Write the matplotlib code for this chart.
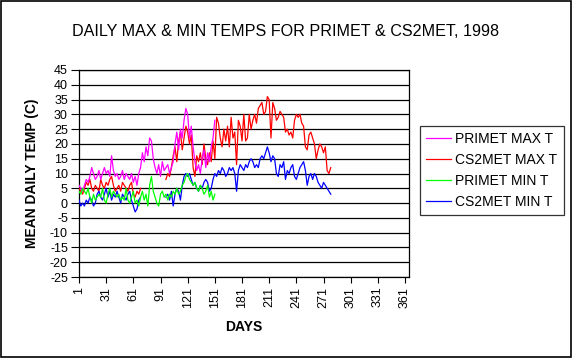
import numpy as np
import matplotlib.pyplot as plt

plt.rcParams['font.family'] = ['Liberation Sans', 'DejaVu Sans']

# daily readings, every second day
primet_days = np.arange(1, 152, 2)
primet_max = [6, 5, 4, 6, 8, 7, 9, 12, 10, 8, 9, 11, 8, 10, 12, 10, 11, 9, 16, 11,
              9, 10, 8, 9, 11, 8, 10, 9, 8, 10, 7, 9, 6, 10, 12, 17, 14, 19, 16, 22,
              21, 15, 12, 10, 13, 9, 14, 11, 12, 13, 10, 12, 14, 20, 24, 18, 25, 22, 28, 32,
              30, 22, 26, 19, 14, 11, 13, 10, 15, 18, 12, 17, 14, 19, 22, 28]
primet_min = [4, 3, 5, 4, 3, 5, 2, 0, 3, 1, 2, 3, 2, 5, 1, 0, 3, 5, 2, 4,
              3, 2, 3, 1, 2, 1, 5, 1, 0, 2, 4, 0, 1, -1, 2, 4, 1, 3, -1, 6,
              9, 4, 2, 0, -1, 3, 4, 2, 3, 1, 3, 2, 4, 3, 5, 3, 4, 6, 7, 9,
              10, 8, 7, 6, 7, 5, 4, 6, 5, 3, 4, 6, 2, 4, 1, 3]

cs2_days = np.arange(1, 280, 2)
nan = np.nan
cs2_max = [5, 4, 3, 5, 7, 6, 8, 5, 4, 6, 5, 4, 8, 6, 5, 7, 6, 8, 9, 6,
           4, 5, 6, 4, 7, 6, 5, 4, 6, 7, 3, 2, 4, 3, 5, nan, nan, nan, nan, nan,
           nan, nan, nan, nan, nan, nan, nan, nan, 8, 10, 9, 12, 16, 19, 14, 21, 24, 18, 22, 26,
           24, 20, 23, 12, 9, 16, 14, 17, 13, 20, 15, 13, 17, 14, 21, 15, 29, 27, 22, 19,
           25, 21, 26, 19, 29, 22, 24, 13, 28, 26, 21, 30, 21, 22, 30, 25, 28, 30, 27, 32,
           33, 34, 30, 31, 36, 35, 22, 34, 32, 28, 29, 31, 30, 29, 24, 25, 23, 24, 22, 28,
           30, 29, 30, 27, 26, 19, 18, 23, 24, 22, 20, 15, 18, 20, 19, 17, 19, 11, 10, 12]
cs2_min = [1, -1, 0, -1, 1, 0, 2, 1, -1, 0, 3, 4, 2, 1, 3, 5, 2, 4, 1, 3,
           2, 4, 2, 0, 3, 2, 1, 3, 4, 1, -1, -3, -2, 1, 2, nan, nan, nan, nan, nan,
           nan, nan, nan, nan, nan, nan, nan, nan, 2, 3, 1, 4, -1, 3, 5, 4, 1, 6, 9, 10,
           9, 10, 8, 6, 7, 5, 4, 6, 5, 7, 8, 7, 4, 5, 8, 10, 9, 11, 10, 12,
           11, 9, 10, 12, 11, 12, 10, 4, 11, 13, 12, 11, 13, 12, 14, 15, 14, 12, 13, 12,
           15, 16, 15, 17, 19, 17, 14, 16, 15, 10, 9, 13, 12, 14, 8, 11, 10, 12, 13, 9,
           8, 10, 12, 13, 14, 11, 6, 9, 10, 8, 10, 9, 7, 6, 5, 7, 6, 5, 4, 3]

x_ticks = np.arange(1, 362, 30)
y_ticks = np.arange(-25, 46, 5)

fig = plt.figure(figsize=(5.72, 3.58), dpi=100)
fig.patch.set_facecolor('white')
ax = fig.add_axes([79 / 572, 1 - 277 / 358, 330 / 572, 207 / 358])

ax.plot(cs2_days, cs2_max, color='#FF0000', lw=0.9, label='CS2MET MAX T', zorder=3)
ax.plot(primet_days, primet_max, color='#FF00FF', lw=0.9, label='PRIMET MAX T', zorder=4)
ax.plot(cs2_days, cs2_min, color='#0000FF', lw=0.9, label='CS2MET MIN T', zorder=3)
ax.plot(primet_days, primet_min, color='#00FF00', lw=0.9, label='PRIMET MIN T', zorder=4)

ax.set_xlim(1, 365.4)
ax.set_ylim(-25, 45)
ax.set_xticks(x_ticks)
ax.set_xticklabels([str(t) for t in x_ticks], rotation=90, fontsize=9)
ax.set_yticks(y_ticks)
ax.set_yticklabels([str(t) for t in y_ticks], fontsize=9)
ax.tick_params(axis='y', length=6, width=0.8, direction='out', pad=2)
ax.tick_params(axis='x', length=4, width=0.8, direction='out', pad=3)
ax.yaxis.grid(True, color='black', lw=0.9)
ax.set_axisbelow(True)
for s in ax.spines.values():
    s.set_color('black')
    s.set_linewidth(0.9)

ax.set_ylabel('MEAN DAILY TEMP (C)', fontsize=10, fontweight='bold', labelpad=8)
ax.set_xlabel('DAYS', fontsize=10, fontweight='bold', labelpad=9)
fig.text(0.5, 1 - 32 / 358, 'DAILY MAX & MIN TEMPS FOR PRIMET & CS2MET, 1998',
         ha='center', va='center', fontsize=11.6)

h, l = ax.get_legend_handles_labels()
order = [1, 0, 3, 2]
leg = fig.legend([h[i] for i in order], [l[i] for i in order],
                 loc='upper left', bbox_to_anchor=(420 / 572, 1 - 126 / 358),
                 borderaxespad=0, fancybox=False, edgecolor='black', fontsize=10,
                 handlelength=1.8, handletextpad=0.3, labelspacing=0.5, borderpad=0.45)
leg.get_frame().set_linewidth(0.9)

# outer border of the picture
fig.add_artist(plt.Rectangle((0.001, 0.002), 0.997, 0.996, transform=fig.transFigure,
                             fill=False, edgecolor='black', lw=1.2))

fig.savefig('out.png', dpi=100)
